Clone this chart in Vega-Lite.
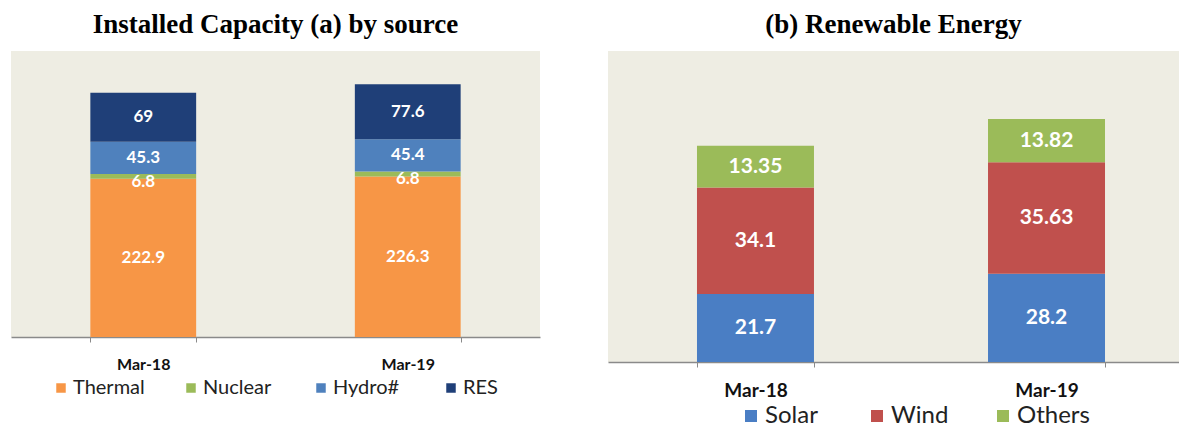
{
  "$schema": "https://vega.github.io/schema/vega-lite/v6.json",
  "background": "white",
  "padding": {"left": 11, "top": 11, "right": 0, "bottom": 0},
  "spacing": 68,
  "config": {"view": {"stroke": null}},
  "resolve": {"scale": {"color": "independent", "x": "independent", "y": "independent"}, "legend": {"color": "independent"}},
  "hconcat": [
    {
      "width": 529,
      "height": 286,
      "title": {"text": "Installed Capacity (a) by source", "font": "Liberation Serif", "fontSize": 27, "fontWeight": "bold", "color": "black", "offset": 12},
      "view": {"fill": "#EEEDE3", "stroke": null},
      "data": {"values": [
        {"month": "Mar-18", "source": "Thermal", "i": 1, "value": 222.9},
        {"month": "Mar-18", "source": "Nuclear", "i": 2, "value": 6.8},
        {"month": "Mar-18", "source": "Hydro#", "i": 3, "value": 45.3},
        {"month": "Mar-18", "source": "RES", "i": 4, "value": 69},
        {"month": "Mar-19", "source": "Thermal", "i": 1, "value": 226.3},
        {"month": "Mar-19", "source": "Nuclear", "i": 2, "value": 6.8},
        {"month": "Mar-19", "source": "Hydro#", "i": 3, "value": 45.4},
        {"month": "Mar-19", "source": "RES", "i": 4, "value": 77.6}
      ]},
      "layer": [
        {
          "mark": {"type": "bar"},
          "encoding": {
            "x": {"field": "month", "type": "nominal", "scale": {"paddingInner": 0.6, "paddingOuter": 0.3},
              "axis": {"title": null, "labelAngle": 0, "ticks": true, "tickBand": "extent", "tickSize": 5, "tickColor": "#8a8a8a", "tickWidth": 1, "domainColor": "#8a8a8a", "domainWidth": 1.5, "labelFont": "Lato", "labelFontWeight": "bold", "labelFontSize": 16, "labelColor": "#111", "labelPadding": 14}},
            "y": {"field": "value", "type": "quantitative", "stack": "zero", "scale": {"domain": [0, 403], "nice": false}, "axis": null},
            "color": {"field": "source", "type": "nominal", "sort": ["Thermal", "Nuclear", "Hydro#", "RES"],
              "scale": {"domain": ["Thermal", "Nuclear", "Hydro#", "RES"], "range": ["#F79646", "#9BBB59", "#4F81BD", "#1F3F78"]},
              "legend": {"title": null, "orient": "none", "legendX": 40, "legendY": 327, "direction": "horizontal", "columns": 4, "gridAlign": "all", "columnPadding": 36, "symbolType": "square", "symbolSize": 90, "symbolOpacity": 1, "symbolStrokeWidth": 0, "labelOffset": 2, "labelFont": "Lato", "labelFontSize": 20, "labelColor": "#222"}},
            "order": {"field": "i"}
          }
        },
        {
          "mark": {"type": "text", "color": "white", "font": "Lato", "fontWeight": "bold", "fontSize": 17},
          "encoding": {
            "x": {"field": "month", "type": "nominal"},
            "y": {"field": "value", "type": "quantitative", "stack": "zero", "bandPosition": 0.5},
            "detail": {"field": "source"},
            "order": {"field": "i"},
            "text": {"condition": {"test": "datum.source == 'Nuclear'", "value": ""}, "field": "value", "type": "nominal"}
          }
        },
        {
          "transform": [
            {"stack": "value", "groupby": ["month"], "sort": [{"field": "i", "order": "ascending"}], "as": ["v0", "v1"]},
            {"filter": "datum.source == 'Nuclear'"}
          ],
          "mark": {"type": "text", "color": "white", "font": "Lato", "fontWeight": "bold", "fontSize": 17, "baseline": "middle", "dy": 3},
          "encoding": {
            "x": {"field": "month", "type": "nominal"},
            "y": {"field": "v0", "type": "quantitative"},
            "text": {"field": "value", "type": "nominal"}
          }
        }
      ]
    },
    {
      "width": 571,
      "height": 311,
      "title": {"text": "(b) Renewable Energy", "font": "Liberation Serif", "fontSize": 27, "fontWeight": "bold", "color": "black", "offset": 12},
      "view": {"fill": "#EEEDE3", "stroke": null},
      "data": {"values": [
        {"month": "Mar-18", "source": "Solar", "i": 1, "value": 21.7},
        {"month": "Mar-18", "source": "Wind", "i": 2, "value": 34.1},
        {"month": "Mar-18", "source": "Others", "i": 3, "value": 13.35},
        {"month": "Mar-19", "source": "Solar", "i": 1, "value": 28.2},
        {"month": "Mar-19", "source": "Wind", "i": 2, "value": 35.63},
        {"month": "Mar-19", "source": "Others", "i": 3, "value": 13.82}
      ]},
      "layer": [
        {
          "mark": {"type": "bar"},
          "encoding": {
            "x": {"field": "month", "type": "nominal", "scale": {"paddingInner": 0.598, "paddingOuter": 0.28, "align": 0.546},
              "axis": {"title": null, "labelAngle": 0, "ticks": true, "tickBand": "extent", "tickSize": 5, "tickColor": "#8a8a8a", "tickWidth": 1, "domainColor": "#8a8a8a", "domainWidth": 1.5, "labelFont": "Lato", "labelFontWeight": "bold", "labelFontSize": 19, "labelColor": "#111", "labelPadding": 14}},
            "y": {"field": "value", "type": "quantitative", "stack": "zero", "scale": {"domain": [0, 99.4], "nice": false}, "axis": null},
            "color": {"field": "source", "type": "nominal", "sort": ["Solar", "Wind", "Others"],
              "scale": {"domain": ["Solar", "Wind", "Others"], "range": ["#4A7EC4", "#C0504D", "#9BBB59"]},
              "legend": {"title": null, "orient": "none", "legendX": 131, "legendY": 353, "direction": "horizontal", "columns": 3, "gridAlign": "all", "columnPadding": 27, "symbolType": "square", "symbolSize": 144, "symbolOpacity": 1, "symbolStrokeWidth": 0, "labelOffset": 2, "labelFont": "Lato", "labelFontSize": 24, "labelColor": "#222"}},
            "order": {"field": "i"}
          }
        },
        {
          "mark": {"type": "text", "color": "white", "font": "Lato", "fontWeight": "bold", "fontSize": 21},
          "encoding": {
            "x": {"field": "month", "type": "nominal"},
            "y": {"field": "value", "type": "quantitative", "stack": "zero", "bandPosition": 0.5},
            "detail": {"field": "source"},
            "order": {"field": "i"},
            "text": {"field": "value", "type": "nominal"}
          }
        }
      ]
    }
  ]
}
